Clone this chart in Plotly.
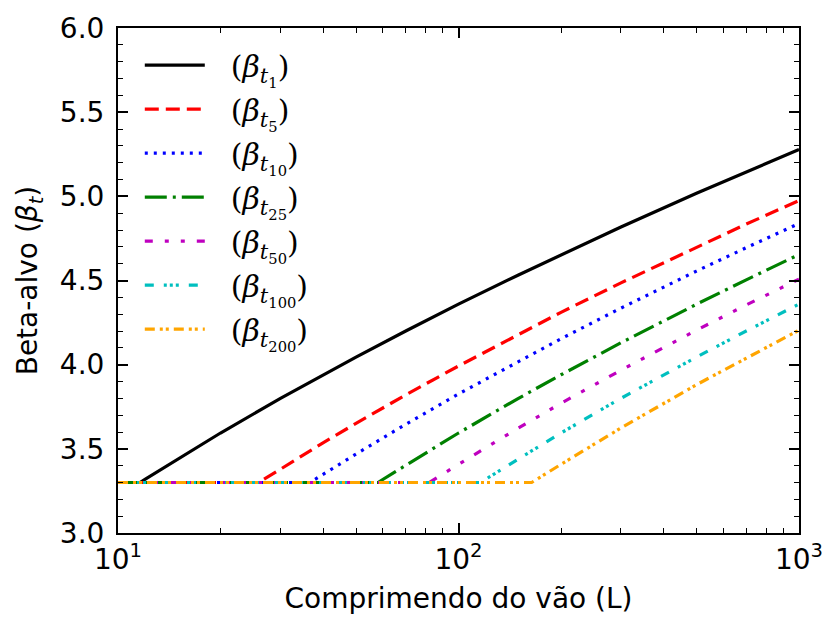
import plotly.graph_objects as go

# Span length (L) and target beta for each reference period
L_t1 = [10, 11.6, 12, 15, 20, 30, 50, 70, 100, 150, 200, 300, 500, 700, 1000]
B_t1 = [3.30, 3.30, 3.318, 3.440, 3.594, 3.80, 4.045, 4.20, 4.36, 4.533, 4.653, 4.818, 5.018, 5.146, 5.278]

L_t5 = [10, 25.9, 30, 40, 50, 70, 100, 150, 200, 300, 500, 700, 1000]
B_t5 = [3.30, 3.30, 3.379, 3.536, 3.651, 3.821, 3.992, 4.181, 4.311, 4.486, 4.699, 4.835, 4.975]

L_t10 = [10, 36.6, 50, 70, 100, 150, 200, 300, 500, 700, 1000]
B_t10 = [3.30, 3.30, 3.469, 3.646, 3.826, 4.020, 4.154, 4.336, 4.556, 4.695, 4.839]

L_t25 = [10, 58, 70, 100, 150, 200, 300, 500, 700, 1000]
B_t25 = [3.30, 3.30, 3.402, 3.594, 3.80, 3.940, 4.130, 4.359, 4.504, 4.654]

L_t50 = [10, 82, 100, 150, 200, 300, 500, 700, 1000]
B_t50 = [3.30, 3.30, 3.408, 3.624, 3.771, 3.967, 4.205, 4.355, 4.508]

L_t100 = [10, 116, 150, 200, 300, 500, 700, 1000]
B_t100 = [3.30, 3.30, 3.440, 3.594, 3.80, 4.045, 4.20, 4.36]

L_t200 = [10, 164, 200, 300, 500, 700, 1000]
B_t200 = [3.30, 3.30, 3.408, 3.624, 3.881, 4.040, 4.205]

subs = ["1", "5", "10", "25", "50", "100", "200"]
labels = [f"\u2002\u2009(<i>β</i><sub><i>t</i><sub>{s}</sub></sub>)" for s in subs]

x_major = [10, 100, 1000]
x_major_text = ["10<sup>1</sup>", "10<sup>2</sup>", "10<sup>3</sup>"]

series = [(L_t1, B_t1), (L_t5, B_t5), (L_t10, B_t10), (L_t25, B_t25),
          (L_t50, B_t50), (L_t100, B_t100), (L_t200, B_t200)]
colors = ["#000000", "#ff0000", "#0000ff", "#008000", "#bf00bf", "#00bfbf", "#ffa500"]
dashes = ["solid", "14px,7px", "3px,6px", "22px,6px,3px,6px",
          "8px,12px,4px,12px,4px,12px",
          "9px,10px,3px,3px,3px,3px,3px,10px",
          "10px,5px,3px,3px,3px,5px"]

fig = go.Figure()
for i, ((xs, ys), lab) in enumerate(zip(series, labels)):
    fig.add_trace(go.Scatter(
        x=xs, y=ys, mode="lines", name=lab, legendgroup=f"g{i}",
        line=dict(color=colors[i], width=3.2, dash=dashes[i]),
    ))

minor_x = [v * m for v in (10, 100) for m in range(2, 10)]

axis_common = dict(
    showline=True, linecolor="black", linewidth=2, mirror="allticks",
    ticks="inside", ticklen=10, tickwidth=1.5, tickcolor="black",
    showgrid=False, zeroline=False,
    tickfont=dict(family="DejaVu Sans", size=28, color="black"),
)

fig.update_xaxes(
    type="log", range=[1, 3],
    tickvals=x_major, ticktext=x_major_text,
    minor=dict(ticks="inside", ticklen=5, tickwidth=1.2, tickcolor="black",
               tickvals=minor_x, showgrid=False),
    title=dict(text="Comprimendo do vão (L)", standoff=14,
               font=dict(family="DejaVu Sans", size=28, color="black")),
    **axis_common,
)
fig.update_yaxes(
    range=[3, 6], dtick=0.5, tickformat=".1f",
    minor=dict(ticks="inside", ticklen=5, tickwidth=1.2, tickcolor="black",
               dtick=0.1, showgrid=False),
    ticklabelstandoff=6,
    title=dict(text="Beta-alvo (<i>β<sub>t</sub></i>)", standoff=14,
               font=dict(family="DejaVu Sans", size=28, color="black")),
    **axis_common,
)

fig.update_layout(
    width=835, height=621,
    margin=dict(l=118, r=26, t=24, b=87),
    paper_bgcolor="white", plot_bgcolor="white",
    showlegend=True,
    legend=dict(x=0.032, y=0.978, xanchor="left", yanchor="top",
                bgcolor="rgba(255,255,255,0)", borderwidth=0,
                tracegroupgap=2, itemwidth=60,
                font=dict(family="DejaVu Serif", size=30, color="black")),
)

fig.write_html("out.html")
